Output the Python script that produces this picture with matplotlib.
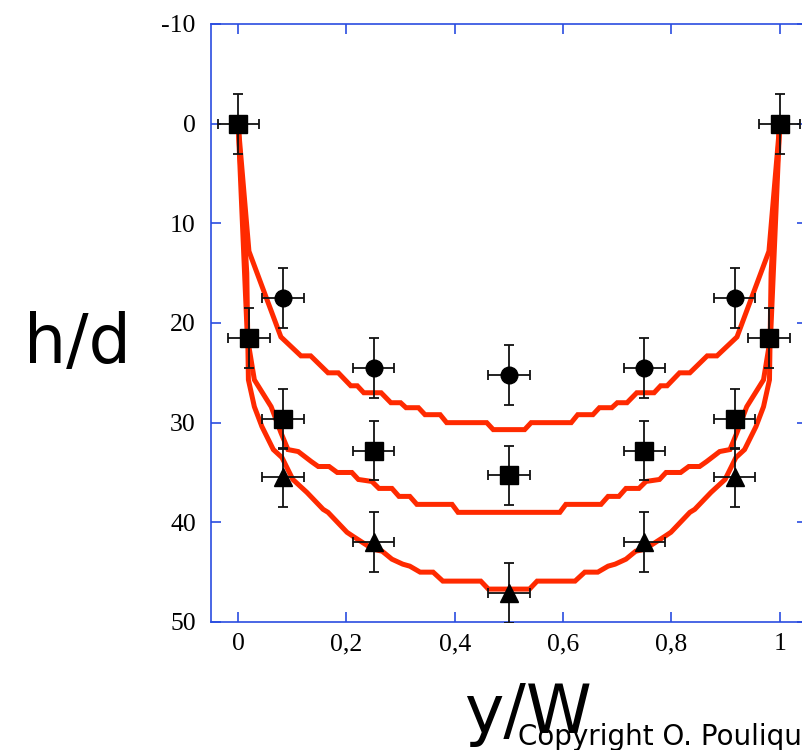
import matplotlib
matplotlib.use("Agg")
import matplotlib.pyplot as plt

plt.rcParams["axes.unicode_minus"] = False

# measured points (y/W, h/d), three flow rates
x_circ = [0.083, 0.25, 0.5, 0.75, 0.917]
h_circ = [17.5, 24.5, 25.2, 24.5, 17.5]

x_sq = [0.0, 0.02, 0.083, 0.25, 0.5, 0.75, 0.917, 0.98, 1.0]
h_sq = [0.0, 21.5, 29.6, 32.8, 35.3, 32.8, 29.6, 21.5, 0.0]

x_tri = [0.083, 0.25, 0.5, 0.75, 0.917]
h_tri = [35.5, 42.0, 47.1, 42.0, 35.5]

xerr = 0.038
yerr = 3.0

# model profiles
xa = [0, 0.02, 0.079, 0.116, 0.134, 0.166, 0.185, 0.208, 0.220, 0.232, 0.264, 0.282,
      0.300, 0.310, 0.333, 0.345, 0.373, 0.385, 0.459, 0.471, 0.529, 0.541, 0.615,
      0.627, 0.655, 0.667, 0.690, 0.700, 0.718, 0.736, 0.768, 0.780, 0.792, 0.815,
      0.834, 0.866, 0.884, 0.921, 0.98, 1.0]
ha = [0, 12.8, 21.4, 23.3, 23.3, 25.0, 25.0, 26.3, 26.3, 27.0, 27.0, 28.0,
      28.0, 28.5, 28.5, 29.2, 29.2, 30.0, 30.0, 30.7, 30.7, 30.0, 30.0,
      29.2, 29.2, 28.5, 28.5, 28.0, 28.0, 27.0, 27.0, 26.3, 26.3, 25.0,
      25.0, 23.3, 23.3, 21.4, 12.8, 0]

xb = [0, 0.017, 0.030, 0.061, 0.079, 0.092, 0.111, 0.135, 0.148, 0.168, 0.183, 0.210,
      0.222, 0.247, 0.260, 0.284, 0.297, 0.317, 0.330, 0.395, 0.406, 0.594, 0.605,
      0.670, 0.683, 0.703, 0.716, 0.740, 0.753, 0.778, 0.790, 0.817, 0.832, 0.852,
      0.865, 0.889, 0.908, 0.921, 0.939, 0.970, 0.983, 1.0]
hb = [0, 21.4, 25.7, 28.4, 31.0, 32.7, 32.9, 33.9, 34.4, 34.4, 35.0, 35.0,
      35.7, 35.9, 36.6, 36.6, 37.4, 37.4, 38.2, 38.2, 39.0, 39.0, 38.2,
      38.2, 37.4, 37.4, 36.6, 36.6, 35.9, 35.7, 35.0, 35.0, 34.4, 34.4,
      33.9, 32.9, 32.7, 31.0, 28.4, 25.7, 21.4, 0]

xc = [0, 0.016, 0.019, 0.030, 0.044, 0.065, 0.081, 0.101, 0.127, 0.157, 0.166, 0.201,
      0.212, 0.249, 0.266, 0.284, 0.304, 0.317, 0.336, 0.360, 0.378, 0.448, 0.462,
      0.538, 0.552, 0.622, 0.640, 0.664, 0.683, 0.696, 0.716, 0.734, 0.751, 0.788,
      0.799, 0.834, 0.843, 0.873, 0.899, 0.919, 0.935, 0.956, 0.970, 0.981, 0.984, 1.0]
hc = [0, 15.0, 25.7, 28.4, 30.4, 32.7, 33.5, 35.7, 37.0, 38.7, 39.0, 41.0,
      41.4, 42.7, 42.9, 43.7, 44.2, 44.4, 45.0, 45.0, 45.9, 45.9, 46.7,
      46.7, 45.9, 45.9, 45.0, 45.0, 44.4, 44.2, 43.7, 42.9, 42.7, 41.4,
      41.0, 39.0, 38.7, 37.0, 35.7, 33.5, 32.7, 30.4, 28.4, 25.7, 15.0, 0]

xticks = [0, 0.2, 0.4, 0.6, 0.8, 1.0]
xticklabels = ["0", "0,2", "0,4", "0,6", "0,8", "1"]
yticks = [-10, 0, 10, 20, 30, 40, 50]

blue = "#2a4de0"
red = "#ff2a00"

fig = plt.figure(figsize=(8.03, 7.5), dpi=100)
ax = fig.add_axes([0.2628, 0.1707, 0.742, 0.7973])

for xs, hs in [(xa, ha), (xb, hb), (xc, hc)]:
    ax.plot(xs, hs, color=red, lw=3.6, solid_joinstyle="miter", zorder=2)

ebkw = dict(xerr=xerr, yerr=yerr, color="k", mfc="k", mec="k", ecolor="#111111",
            elinewidth=1.3, capsize=3.5, capthick=1.3, linestyle="none", zorder=3)
ax.errorbar(x_circ, h_circ, marker="o", ms=12, **ebkw)
ax.errorbar(x_sq, h_sq, marker="s", ms=13, **ebkw)
ax.errorbar(x_tri, h_tri, marker="^", ms=13, **ebkw)

ax.set_xlim(-0.05, 1.05)
ax.set_ylim(50, -10)
ax.set_xticks(xticks)
ax.set_xticklabels(xticklabels)
ax.set_yticks(yticks)

for s in ax.spines.values():
    s.set_color(blue)
    s.set_linewidth(1.2)
ax.tick_params(direction="in", length=7.5, width=1.2, color=blue,
               top=True, right=True, labelsize=18.5)
ax.tick_params(axis="y", pad=11)
ax.tick_params(axis="x", pad=8)
for lab in ax.get_xticklabels() + ax.get_yticklabels():
    lab.set_family("Liberation Serif")

fig.text(0.030, 0.516, "h/d", fontsize=48, family="DejaVu Sans", va="baseline", ha="left")
fig.text(0.578, 0.0227, "y/W", fontsize=48, family="DejaVu Sans", va="baseline", ha="left")
fig.text(0.645, 0.0067, "Copyright O. Pouliquen", fontsize=20, family="DejaVu Sans",
         va="baseline", ha="left")

fig.savefig("out.png", dpi=100)
